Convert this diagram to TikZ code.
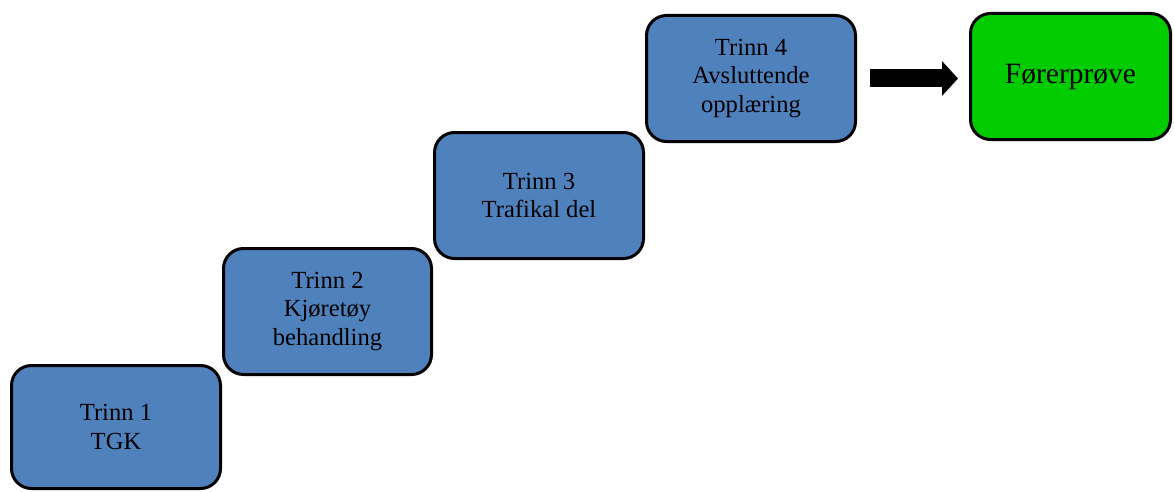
\documentclass[tikz,border=0pt]{standalone}
\usepackage{fontspec}
\setmainfont{Liberation Serif}
\usetikzlibrary{arrows.meta}
\definecolor{stepblue}{HTML}{4F81BD}
\definecolor{stepgreen}{HTML}{00CC00}
\begin{document}
\begin{tikzpicture}[x=1pt,y=-1pt,
  stepbox/.style={draw=black,line width=3pt,rounded corners=20pt,fill=stepblue,
    minimum width=209pt,minimum height=126pt,inner sep=0pt,align=center,
    font=\fontsize{24.6}{28.5}\selectfont},
  goalbox/.style={stepbox,fill=stepgreen,minimum width=200pt,
    font=\fontsize{29.5}{33}\selectfont},
  bigarrow/.style={line width=18pt,-{Triangle[length=16pt,width=34pt]}}]
\useasboundingbox (0,0) rectangle (1174,492);
\node[stepbox,minimum height=123pt] (b1) at (116,427) {Trinn 1\\TGK};
\node[stepbox,minimum width=208pt] (b2) at (327.5,311.5) {Trinn 2\\Kjøretøy\\behandling};
\node[stepbox] (b3) at (539,195.5) {Trinn 3\\Trafikal del};
\node[stepbox] (b4) at (751,78.5) {Trinn 4\\Avsluttende\\opplæring};
\node[goalbox] (g) at (1070.5,76.5) {Førerprøve};
\draw[bigarrow,shorten <=13pt,shorten >=11pt] (b4.east) -- (b4.east -| g.west);
\end{tikzpicture}
\end{document}
